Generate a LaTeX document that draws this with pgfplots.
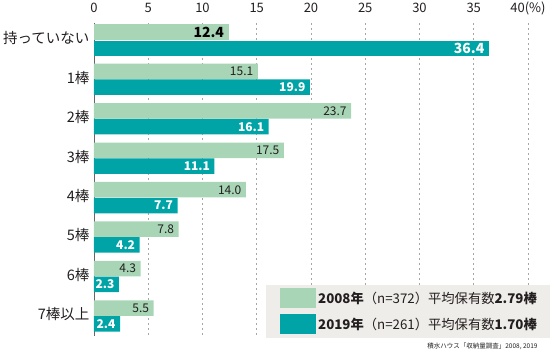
\documentclass[border=0pt]{standalone}
\usepackage{fontspec}
\setmainfont{Noto Sans CJK JP}
\usepackage{pgfplots}
\pgfplotsset{compat=1.18}
\definecolor{g08}{RGB}{168,213,181}
\definecolor{t19}{RGB}{0,164,166}
\definecolor{legbg}{RGB}{239,237,233}
\definecolor{txt}{RGB}{35,31,32}
\begin{document}
\begin{tikzpicture}[x=1pt,y=1pt]
\begin{axis}[
  at={(94pt,16pt)}, anchor=south west,
  scale only axis, width=434pt, height=313pt,
  xmin=0, xmax=40, ymin=-0.43, ymax=7.51, y dir=reverse,
  axis x line*=top, axis y line*=left,
  x axis line style={draw=none},
  y axis line style={draw=gray!80!black, line width=0.8pt},
  xtick={0,5,...,40},
  xticklabels={0,5,10,15,20,25,30,35,40(\%)},
  typeset ticklabels with strut,
  ytick={0,...,7},
  yticklabels={持っていない,1棒,2棒,3棒,4棒,5棒,6棒,7棒以上},
  major tick length=0pt,
  xmajorgrids, grid style={gray!70, dash pattern=on 2.5pt off 2.5pt, line width=0.6pt},
  xticklabel style={font=\fontsize{13}{13}\selectfont, text=txt, yshift=3pt},
  yticklabel style={font=\fontsize{14.5}{15}\selectfont, text=txt, xshift=-1pt},
  /pgf/number format/assume math mode=true,
  xbar, bar width=15.5pt, bar shift=0pt, point meta=x,
  legend image code/.code={\fill[#1] (0pt,-10pt) rectangle (36pt,10pt);},
  legend cell align=left,
  legend style={at={(0.3963,0.165)}, anchor=north west, fill=legbg, draw=none,
    inner xsep=14pt, inner ysep=3.5pt, row sep=6pt,
    font=\fontsize{13.3}{13.3}\selectfont, text=txt},
]
\addplot[fill=g08, draw=none, nodes near coords,
  nodes near coords style={anchor=east, xshift=-1pt, font=\fontsize{12}{12}\selectfont, text=txt,
  /pgf/number format/fixed, /pgf/number format/fixed zerofill, /pgf/number format/precision=1}]
  coordinates {(15.1,0.8) (23.7,1.8) (17.5,2.8) (14.0,3.8) (7.8,4.8) (4.3,5.8) (5.5,6.8)};
\addlegendentry{\textbf{2008年}（n=372）平均保有数\textbf{2.79棒}}
\addplot[fill=t19, draw=none, nodes near coords,
  nodes near coords style={anchor=east, xshift=-1pt, font=\bfseries\fontsize{12}{12}\selectfont, text=white,
  /pgf/number format/fixed, /pgf/number format/fixed zerofill, /pgf/number format/precision=1}]
  coordinates {(19.9,1.2) (16.1,2.2) (11.1,3.2) (7.7,4.2) (4.2,5.2) (2.3,6.2) (2.4,7.2)};
\addlegendentry{\textbf{2019年}（n=261）平均保有数\textbf{1.70棒}}
\addplot[forget plot, fill=g08, draw=none, nodes near coords,
  nodes near coords style={anchor=east, xshift=-1pt, font=\bfseries\fontsize{14}{14}\selectfont, text=black,
  /pgf/number format/fixed, /pgf/number format/fixed zerofill, /pgf/number format/precision=1}]
  coordinates {(12.4,-0.2)};
\addplot[forget plot, fill=t19, draw=none, nodes near coords,
  nodes near coords style={anchor=east, xshift=-1pt, font=\bfseries\fontsize{14}{14}\selectfont, text=white,
  /pgf/number format/fixed, /pgf/number format/fixed zerofill, /pgf/number format/precision=1}]
  coordinates {(36.4,0.22)};
\end{axis}
\node[anchor=east, font=\fontsize{6.5}{7}\selectfont, text=txt] at (541pt,6pt) {積水ハウス「収納量調査」2008, 2019};
\pgfresetboundingbox
\path (0,0) rectangle (550pt,352pt);
\end{tikzpicture}
\end{document}
